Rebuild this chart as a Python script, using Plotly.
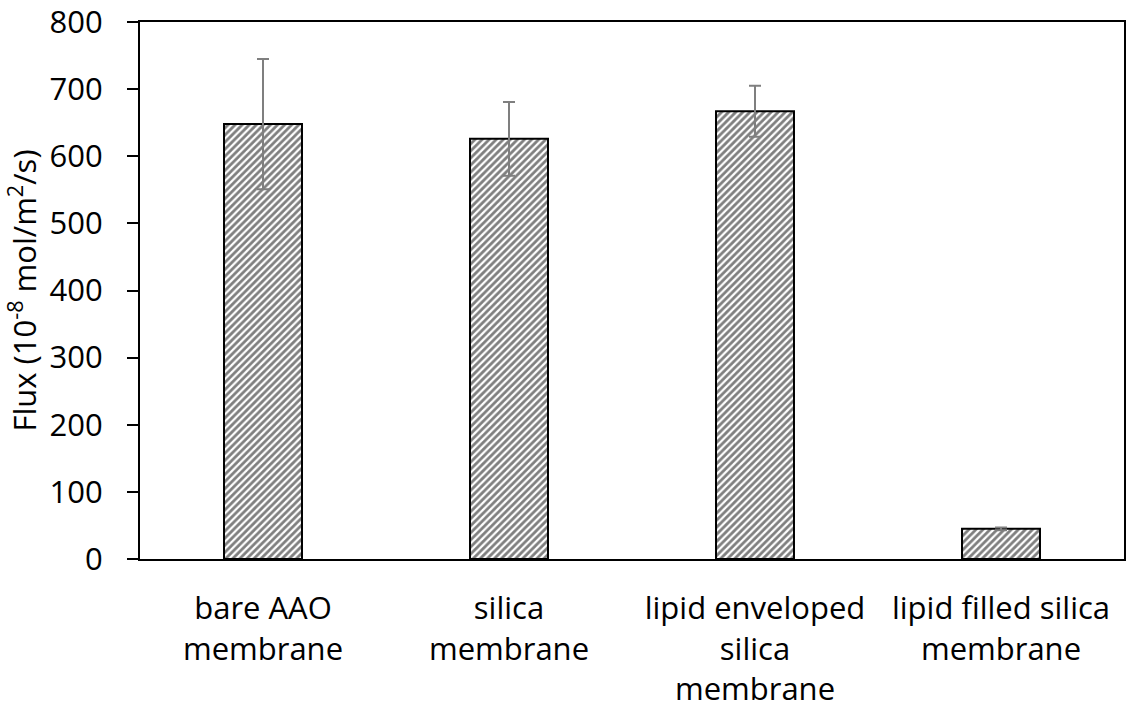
import plotly.graph_objects as go

categories = ["bare AAO<br>membrane", "silica<br>membrane",
              "lipid enveloped<br>silica<br>membrane", "lipid filled silica<br>membrane"]
flux = [648, 626, 667, 45]
flux_err = [97, 55, 38, 2]
y_ticks = [0, 100, 200, 300, 400, 500, 600, 700, 800]

FONT = "Open Sans"
FS = 31

fig = go.Figure()
fig.add_trace(go.Bar(
    x=categories, y=flux,
    marker=dict(color="white",
                line=dict(color="black", width=2),
                pattern=dict(shape="/", fgcolor="black", bgcolor="white",
                             size=5, solidity=0.55)),
    error_y=dict(type="data", array=flux_err, visible=True,
                 color="#7f7f7f", thickness=2, width=6),
    width=0.317,
))

fig.update_layout(
    width=1130, height=715,
    margin=dict(l=140, r=6, t=22, b=156, autoexpand=False),
    plot_bgcolor="white", paper_bgcolor="white",
    font=dict(family=FONT, size=FS, color="black"),
    showlegend=False,
)
fig.update_xaxes(
    showline=True, linecolor="black", linewidth=2, mirror=True,
    ticks="", showgrid=False, tickfont=dict(size=FS),
    ticklabelstandoff=21, automargin=False,
)
fig.update_yaxes(
    range=[0, 800], tickvals=y_ticks,
    showline=True, linecolor="black", linewidth=2, mirror=True,
    ticks="outside", ticklen=11, tickwidth=2, tickcolor="black",
    showgrid=False, zeroline=False, tickfont=dict(size=FS),
    ticklabelstandoff=18, ticklabeloverflow="allow", automargin=False,
    title=dict(text="Flux (10<sup>-8</sup> mol/m<sup>2</sup>/s)", font=dict(size=FS), standoff=4),
)

fig.write_html("out.html")
